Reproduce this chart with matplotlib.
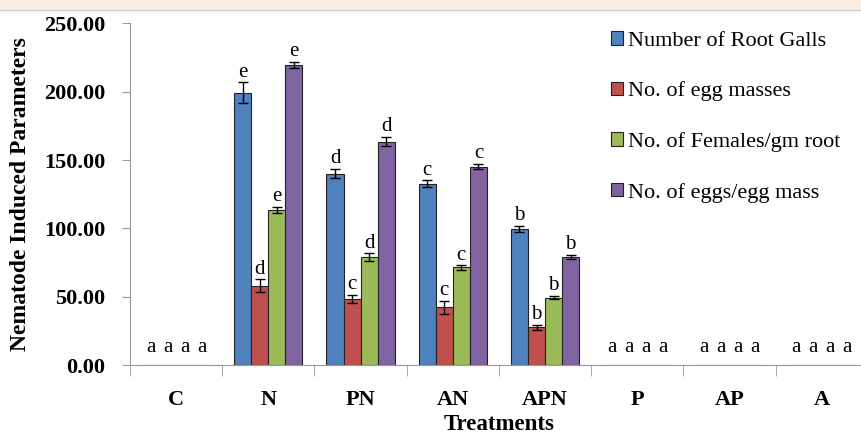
import matplotlib.pyplot as plt
import numpy as np

treatments = ['C', 'N', 'PN', 'AN', 'APN', 'P', 'AP', 'A']
series = ['Number of Root Galls', 'No. of egg masses',
          'No. of Females/gm root', 'No. of eggs/egg mass']
colors = ['#4F81BD', '#C0504D', '#9BBB59', '#8064A2']

root_galls = [0, 199.3, 140.1, 132.8, 99.8, 0, 0, 0]
egg_masses = [0, 58.0, 48.5, 42.3, 27.8, 0, 0, 0]
females = [0, 113.6, 79.0, 71.5, 49.5, 0, 0, 0]
eggs_per_mass = [0, 219.6, 163.5, 145.2, 79.0, 0, 0, 0]

root_galls_err = [0, 7.6, 3.4, 2.4, 2.3, 0, 0, 0]
egg_masses_err = [0, 4.7, 3.0, 5.0, 1.8, 0, 0, 0]
females_err = [0, 2.0, 2.9, 1.5, 1.3, 0, 0, 0]
eggs_per_mass_err = [0, 2.0, 3.5, 1.8, 1.6, 0, 0, 0]

letters_galls = ['a', 'e', 'd', 'c', 'b', 'a', 'a', 'a']
letters_masses = ['a', 'd', 'c', 'c', 'b', 'a', 'a', 'a']
letters_females = ['a', 'e', 'd', 'c', 'b', 'a', 'a', 'a']
letters_eggs = ['a', 'e', 'd', 'c', 'b', 'a', 'a', 'a']


def main():
    plt.rcParams['font.family'] = ['Liberation Serif', 'DejaVu Serif']
    fig = plt.figure(figsize=(8.61, 4.38), dpi=100)

    # thin peach band across the top, as in the original page
    fig.patches.append(plt.Rectangle((0, 0.978), 1, 0.022, transform=fig.transFigure,
                                     facecolor='#FBEDE3', edgecolor='none'))
    fig.lines.append(plt.Line2D([0, 1], [0.977, 0.977], transform=fig.transFigure,
                                color='#CCCCCC', lw=1))

    ax = fig.add_axes([0.151, 0.166, 0.857, 0.781])

    values = [root_galls, egg_masses, females, eggs_per_mass]
    errors = [root_galls_err, egg_masses_err, females_err, eggs_per_mass_err]
    letters = [letters_galls, letters_masses, letters_females, letters_eggs]

    x = np.arange(len(treatments))
    width = 0.185
    for i in range(4):
        pos = x + (i - 1.5) * width
        err = [e if v > 0 else np.nan for v, e in zip(values[i], errors[i])]
        ax.bar(pos, values[i], width, color=colors[i], edgecolor='#222222',
               linewidth=0.8, label=series[i], zorder=2)
        ax.errorbar(pos, values[i], yerr=err, fmt='none', ecolor='black',
                    elinewidth=1, capsize=3.5, capthick=1, zorder=3)
        for p, v, e, t in zip(pos, values[i], errors[i], letters[i]):
            y = v + e + 0.5 if v > 0 else 6
            ax.text(p, y, t, ha='center', va='bottom', fontsize=15)

    ax.set_xlim(-0.5, len(treatments) - 0.5)
    ax.set_ylim(0, 250)
    ax.set_yticks(np.arange(0, 251, 50))
    ax.set_yticklabels(['%.2f' % v for v in np.arange(0, 251, 50)],
                       fontsize=16, fontweight='bold')
    ax.set_xticks(x)
    ax.set_xticklabels(treatments, fontsize=16, fontweight='bold')
    ax.set_xticks(np.arange(-0.5, len(treatments), 1), minor=True)
    ax.tick_params(axis='x', which='major', length=0, pad=18)
    ax.tick_params(axis='x', which='minor', length=8, color='#999999', direction='out')
    ax.tick_params(axis='y', length=6, color='#999999', direction='out', pad=12)

    for s in ['top', 'right']:
        ax.spines[s].set_visible(False)
    ax.spines['left'].set_color('#999999')
    ax.spines['bottom'].set_color('#999999')

    ax.set_xlabel('Treatments', fontsize=16.5, fontweight='bold', labelpad=3)
    ax.set_ylabel('Nematode Induced Parameters', fontsize=17, fontweight='bold', labelpad=9)

    ax.legend(loc='upper left', bbox_to_anchor=(0.625, 1.035), frameon=False,
              fontsize=16, handlelength=0.55, handleheight=0.55, handletextpad=0.2,
              labelspacing=1.38)

    fig.savefig('out.png', dpi=100)


main()
